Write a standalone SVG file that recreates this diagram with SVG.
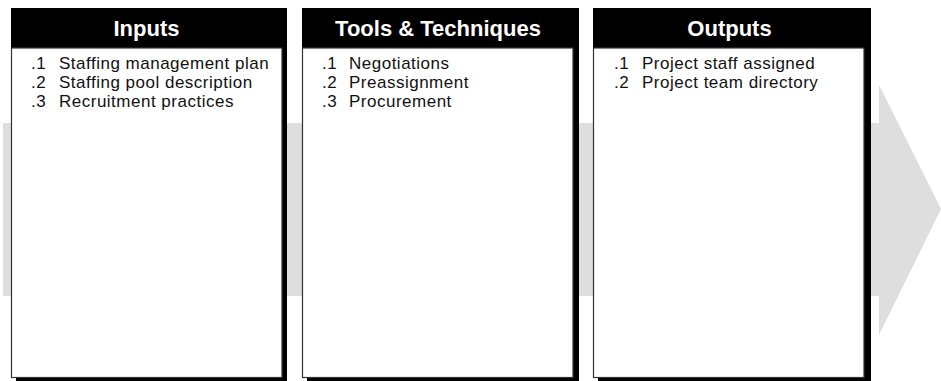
<svg xmlns="http://www.w3.org/2000/svg" width="941" height="381" viewBox="0 0 941 381">
<style>
.hdr{fill:#000}
.shadow{fill:#000}
.body{fill:#fff;stroke:#333;stroke-width:1.2}
.title{font-family:"Liberation Sans",Arial,sans-serif;font-weight:bold;font-size:22px;fill:#fff;text-anchor:middle}
.item{font-family:"Liberation Sans",Arial,sans-serif;font-size:17px;letter-spacing:0.5px;fill:#111}
</style>
<g id="flow-arrow">
<polygon points="3,123 879,123 879,85 941,209 879,335 879,296 3,296" fill="#dedede"/>
</g>
<g id="inputs">
<rect class="shadow" x="16" y="48" width="271" height="333"/>
<rect class="hdr" x="11" y="8" width="276" height="40"/>
<rect class="body" x="11.5" y="48" width="270.5" height="329.5"/>
<text class="title" x="146.5" y="35.5">Inputs</text>
<text class="item" y="69"><tspan x="31">.1</tspan><tspan x="59">Staffing management plan</tspan></text>
<text class="item" y="88"><tspan x="31">.2</tspan><tspan x="59">Staffing pool description</tspan></text>
<text class="item" y="107"><tspan x="31">.3</tspan><tspan x="59">Recruitment practices</tspan></text>
</g>
<g id="tools">
<rect class="shadow" x="307" y="48" width="272" height="333"/>
<rect class="hdr" x="302" y="8" width="277" height="40"/>
<rect class="body" x="302.5" y="48" width="270.5" height="329.5"/>
<text class="title" x="438" y="35.5">Tools &amp; Techniques</text>
<text class="item" y="69"><tspan x="322">.1</tspan><tspan x="349">Negotiations</tspan></text>
<text class="item" y="88"><tspan x="322">.2</tspan><tspan x="349">Preassignment</tspan></text>
<text class="item" y="107"><tspan x="322">.3</tspan><tspan x="349">Procurement</tspan></text>
</g>
<g id="outputs">
<rect class="shadow" x="598" y="48" width="273" height="333"/>
<rect class="hdr" x="593" y="8" width="278" height="40"/>
<rect class="body" x="593.5" y="48" width="270.5" height="329.5"/>
<text class="title" x="729.5" y="35.5">Outputs</text>
<text class="item" y="69"><tspan x="614">.1</tspan><tspan x="642">Project staff assigned</tspan></text>
<text class="item" y="88"><tspan x="614">.2</tspan><tspan x="642">Project team directory</tspan></text>
</g>
</svg>
